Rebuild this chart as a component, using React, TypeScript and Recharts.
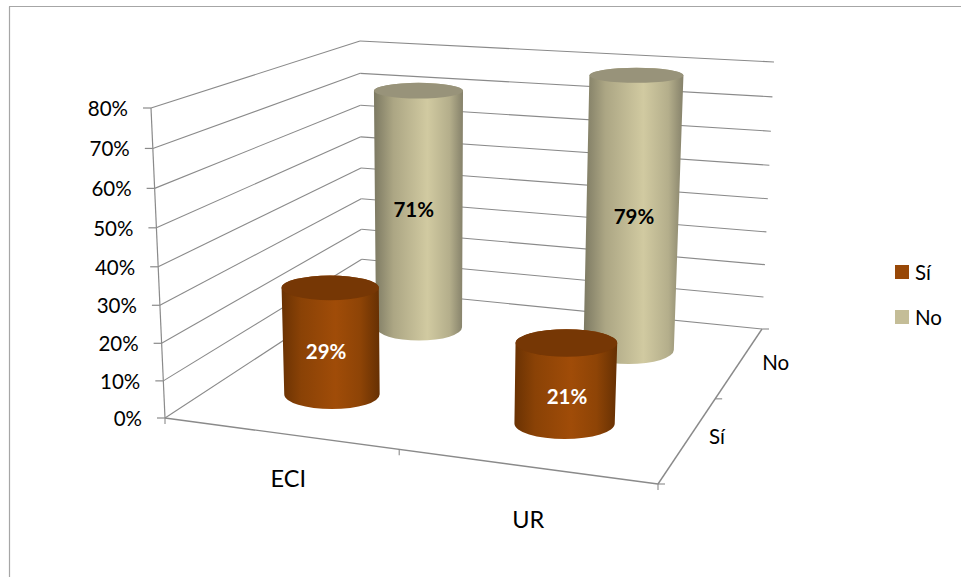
import React from 'react';
import { ComposedChart, Bar, XAxis, YAxis, Legend, Customized } from 'recharts';

const categories = ['ECI', 'UR'];
const siValues = [0.29, 0.21];
const noValues = [0.71, 0.79];
const percentTicks = [0, 0.1, 0.2, 0.3, 0.4, 0.5, 0.6, 0.7, 0.8];
const seriesNames = ['Sí', 'No'];
const seriesColors = ['#984807', '#C4BD97'];

const rows = categories.map((name, i) => ({ name, si: siValues[i], no: noValues[i] }));

const W = 961, H = 577;
const PL = 165, PT = 108, PW = 493, PH = 310;
const FONT = 'Lato, Carlito, sans-serif';
const LINE = '#8a8a8a';

type P = [number, number];
const floor: Record<string, P> = { fl: [165, 418], fr: [658, 484], br: [762, 329], bl: [362, 289] };
const roof: Record<string, P> = { fl: [151, 108], fr: [672, 146], br: [774, 62], bl: [360, 41] };

const lerp = (a: number, b: number, s: number) => a + (b - a) * s;
const warp = (x: number, k: number) => x / (x + (1 - x) * k);
const bil = (q: Record<string, P>, u: number, v: number, i: number) =>
  lerp(lerp(q.fl[i], q.fr[i], u), lerp(q.bl[i], q.br[i], u), v);

function project(u: number, v: number, t: number): P {
  const U = warp(u, 1.105), V = warp(v, 0.82), T = warp(t, 1.05);
  return [
    lerp(bil(floor, U, V, 0), bil(roof, U, V, 0), T),
    lerp(bil(floor, U, V, 1), bil(roof, U, V, 1), T),
  ];
}

const seg = (a: P, b: P, key: string, sw = 1.1) => (
  <line key={key} x1={a[0]} y1={a[1]} x2={b[0]} y2={b[1]} stroke={LINE} strokeWidth={sw} />
);

function Frame() {
  const maxTick = percentTicks[percentTicks.length - 1];
  const walls = percentTicks.map((tick) => {
    const t = tick / maxTick;
    return (
      <g key={tick}>
        {seg(project(0, 0, t), project(0, 1, t), `l${tick}`)}
        {seg(project(0, 1, t), project(1, 1, t), `b${tick}`)}
      </g>
    );
  });
  const fr = project(1, 0, 0), br = project(1, 1, 0), fl = project(0, 0, 0);
  const xm = project(0.5, 0, 0), dm = project(1, 0.5, 0);
  return (
    <g>
      <line x1={9.5} y1={577} x2={9.5} y2={6.5} stroke="#a6a6a6" strokeWidth={1.2} />
      <line x1={9} y1={6.5} x2={961} y2={6.5} stroke="#a6a6a6" strokeWidth={1.2} />
      {walls}
      {seg(project(0, 0, 0), project(0, 0, 1), 'axis', 1.2)}
      {seg(fl, fr, 'front', 1.4)}
      {seg(fr, br, 'side', 1.4)}
      {seg(fl, [fl[0], fl[1] + 6], 'tf0')}
      {seg(xm, [xm[0], xm[1] + 6], 'tf1')}
      {seg(fr, [fr[0], fr[1] + 6], 'tf2')}
      {seg(fr, [fr[0] + 7, fr[1]], 'ts0')}
      {seg(dm, [dm[0] + 7, dm[1]], 'ts1')}
      {seg(br, [br[0] + 7, br[1]], 'ts2')}
      {seriesNames.map((name, i) => {
        const p = project(1, i === 0 ? 0.25 : 0.75, 0);
        return (
          <text key={name} x={p[0] + (i === 0 ? 29 : 36)} y={p[1] + (i === 0 ? -3 : 0)} fontFamily={FONT} fontSize={20.5} fill="#000"
            textAnchor="middle" dominantBaseline="central">{name}</text>
        );
      })}
      <defs>
        <linearGradient id="gradSi" x1="0" y1="0" x2="1" y2="0">
          <stop offset="0" stopColor="#6a3203" />
          <stop offset="0.2" stopColor="#8a4206" />
          <stop offset="0.55" stopColor="#a04c08" />
          <stop offset="0.8" stopColor="#8e4406" />
          <stop offset="1" stopColor="#663003" />
        </linearGradient>
        <linearGradient id="gradNo" x1="0" y1="0" x2="1" y2="0">
          <stop offset="0" stopColor="#7c7962" />
          <stop offset="0.22" stopColor="#aca684" />
          <stop offset="0.6" stopColor="#d1caa1" />
          <stop offset="0.85" stopColor="#b4ae8b" />
          <stop offset="1" stopColor="#85816a" />
        </linearGradient>
      </defs>
    </g>
  );
}

function Cylinder(props: any) {
  const { x, width, height, payload, dataKey, depth, grad, top, labelFill, labelDy } = props;
  const bands = categories.length;
  const band = Math.floor(((x + width / 2 - PL) / PW) * bands);
  const u = (band + 0.5) / bands;
  const t = height / PH + 0.006;
  const radius = (tt: number) => {
    const a = project(0, depth, tt), b = project(1, depth, tt);
    const rx = 0.105 * Math.abs(b[0] - a[0]) * (1 + (u - 0.5) * 0.1);
    return [rx, rx * (0.31 - 0.15 * tt)];
  };
  const b0 = project(u, depth, 0);
  const h0 = project(u, depth, t);
  const base: P = [b0[0] + 2, b0[1]];
  const head: P = [h0[0] + 2, h0[1]];
  const [rb, ryb] = radius(0);
  const [rt, ryt] = radius(t);
  const d = [
    `M${head[0] - rt},${head[1]}`,
    `L${base[0] - rb},${base[1]}`,
    `A${rb},${ryb} 0 0 0 ${base[0] + rb},${base[1]}`,
    `L${head[0] + rt},${head[1]}`,
    `A${rt},${ryt} 0 0 0 ${head[0] - rt},${head[1]}`,
    'Z',
  ].join(' ');
  const value = payload[dataKey];
  return (
    <g>
      <path d={d} fill={`url(#${grad})`} />
      <ellipse cx={head[0]} cy={head[1]} rx={rt} ry={ryt} fill={top} />
      <text x={(head[0] + base[0]) / 2 - 5 + band * 6.5} y={(head[1] + base[1]) / 2 + labelDy + band * 3}
        fontFamily={FONT} fontSize={20.5} fontWeight={700} fill={labelFill}
        textAnchor="middle" dominantBaseline="central">{`${Math.round(value * 100)}%`}</text>
    </g>
  );
}

function PercentTick(props: any) {
  const t = props.payload.value / percentTicks[percentTicks.length - 1];
  const p = project(0, 0, t);
  return (
    <g>
      <line x1={p[0] - 8} y1={p[1]} x2={p[0]} y2={p[1]} stroke={LINE} strokeWidth={1.2} />
      <text x={p[0] - 23} y={p[1]} fontFamily={FONT} fontSize={20.5} fill="#000"
        textAnchor="end" dominantBaseline="central">{`${Math.round(props.payload.value * 100)}%`}</text>
    </g>
  );
}

function CategoryTick(props: any) {
  const s = (props.x - PL) / PW;
  const p = project(s, 0, 0);
  return (
    <text x={p[0] + lerp(9, 3, (s - 0.25) * 2)} y={p[1] + lerp(45, 53, (s - 0.25) * 2)}
      fontFamily={FONT} fontSize={23.5} fill="#000" textAnchor="middle" dominantBaseline="central">
      {props.payload.value}
    </text>
  );
}

function LegendBox() {
  return (
    <div style={{ fontFamily: FONT, fontSize: 20.5, color: '#000', lineHeight: '24px' }}>
      {seriesNames.map((name, i) => (
        <div key={name} style={{ display: 'flex', alignItems: 'center', height: 24, marginBottom: i === 0 ? 21 : 0 }}>
          <span style={{ width: 14, height: 14, background: seriesColors[i], display: 'inline-block', marginRight: 6 }} />
          <span>{name}</span>
        </div>
      ))}
    </div>
  );
}

export default function App() {
  return (
    <div style={{ position: 'absolute', left: 0, top: 0, width: W, height: H, background: '#fff' }}>
      <ComposedChart width={W} height={H} data={rows} barCategoryGap="40%"
        margin={{ top: PT, left: PL - 100, right: W - PL - PW, bottom: H - PT - PH - 40 }}>
        <Customized component={Frame} />
        <XAxis dataKey="name" height={40} axisLine={false} tickLine={false} tick={CategoryTick} interval={0} />
        <YAxis width={100} domain={[0, 0.8]} ticks={percentTicks} axisLine={false} tickLine={false} tick={PercentTick} interval={0} />
        <Bar dataKey="no" name="No" fill={seriesColors[1]} isAnimationActive={false}
          shape={(p: any) => <Cylinder {...p} dataKey="no" depth={0.75} grad="gradNo" top="#98937a" labelFill="#000" labelDy={0} />} />
        <Bar dataKey="si" name="Sí" fill={seriesColors[0]} isAnimationActive={false}
          shape={(p: any) => <Cylinder {...p} dataKey="si" depth={0.25} grad="gradSi" top="#763705" labelFill="#fff" labelDy={10} />} />
        <Legend layout="vertical" align="center" verticalAlign="middle" content={LegendBox}
          wrapperStyle={{ left: 895, top: 260, width: 66, bottom: 'auto', right: 'auto', margin: 0 }} />
      </ComposedChart>
    </div>
  );
}
